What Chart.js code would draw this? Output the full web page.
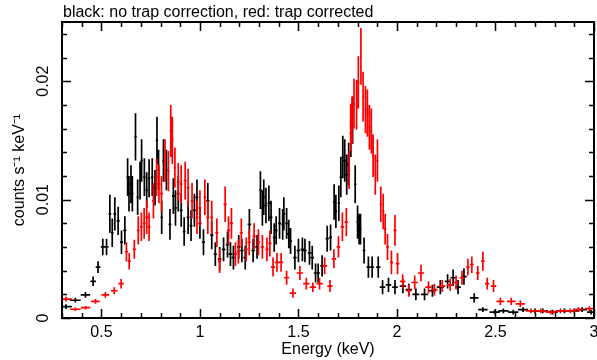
<!DOCTYPE html>
<html>
<head>
<meta charset="utf-8">
<script src="https://cdn.jsdelivr.net/npm/chart.js@4/dist/chart.umd.min.js"></script>
<style>
  html, body { margin: 0; padding: 0; background: #fff; }
  canvas { display: block; }
</style>
</head>
<body>
<canvas id="chart" width="597" height="360"></canvas>
<script>
// spectra: energy (keV), rate (counts/s/keV), 1-sigma error, bin half-width
const blackEnergy = [0.32, 0.368, 0.419, 0.458, 0.483, 0.507, 0.526, 0.543, 0.555, 0.568,
  0.585, 0.602, 0.619, 0.633, 0.640, 0.650, 0.657, 0.673, 0.684, 0.696,
  0.704, 0.718, 0.730, 0.742, 0.758, 0.772, 0.782, 0.790, 0.806, 0.815,
  0.830, 0.848, 0.865, 0.876, 0.890, 0.905, 0.920, 0.940, 0.955, 0.972,
  0.985, 1.000, 1.018, 1.040, 1.060, 1.078, 1.100, 1.120, 1.140, 1.155,
  1.170, 1.197, 1.213, 1.230, 1.251, 1.270, 1.290, 1.307, 1.317, 1.324,
  1.335, 1.350, 1.361, 1.377, 1.387, 1.404, 1.420, 1.426, 1.440, 1.451,
  1.460, 1.482, 1.500, 1.520, 1.533, 1.556, 1.570, 1.587, 1.600, 1.620,
  1.646, 1.663, 1.681, 1.690, 1.705, 1.715, 1.725, 1.735, 1.745, 1.755,
  1.766, 1.775, 1.788, 1.800, 1.808, 1.815, 1.833, 1.855, 1.874, 1.905,
  1.927, 1.957, 1.990, 2.030, 2.060, 2.096, 2.140, 2.180, 2.220, 2.257,
  2.285, 2.310, 2.340, 2.392, 2.436, 2.496, 2.540, 2.590, 2.640, 2.700,
  2.740, 2.790, 2.850, 2.900, 2.940, 2.985];
const blackRate = [0.00096, 0.0015, 0.00195, 0.0031, 0.0043, 0.0060, 0.0060, 0.0088, 0.0072, 0.0088,
  0.0082, 0.0064, 0.0074, 0.0119, 0.0105, 0.0113, 0.0105, 0.0153, 0.0102, 0.0116,
  0.0133, 0.0119, 0.0108, 0.0118, 0.0119, 0.0110, 0.0150, 0.0125, 0.0085, 0.0133,
  0.0125, 0.0079, 0.0103, 0.0093, 0.0105, 0.0091, 0.0073, 0.0085, 0.0078, 0.0091,
  0.0102, 0.0080, 0.0064, 0.0099, 0.0070, 0.0054, 0.0050, 0.0058, 0.0062, 0.0054,
  0.0051, 0.0060, 0.0057, 0.0051, 0.0079, 0.0057, 0.0060, 0.0108, 0.0093, 0.0102,
  0.0095, 0.0097, 0.0085, 0.0068, 0.0074, 0.0080, 0.0079, 0.0088, 0.0080, 0.0071,
  0.0065, 0.0051, 0.0057, 0.0058, 0.0057, 0.0055, 0.0051, 0.0038, 0.0038, 0.0044,
  0.0067, 0.0068, 0.0098, 0.0090, 0.0097, 0.0119, 0.0136, 0.0133, 0.0121, 0.0130,
  0.0156, 0.0167, 0.0113, 0.0081, 0.0075, 0.0075, 0.0057, 0.0043, 0.0043, 0.0043,
  0.0026, 0.0028, 0.0026, 0.0027, 0.0024, 0.0020, 0.0020, 0.0023, 0.0026, 0.0031,
  0.0034, 0.0026, 0.0035, 0.0017, 0.0007, 0.0005, 0.0006, 0.0005, 0.0007, 0.0006,
  0.0006, 0.0005, 0.0006, 0.0006, 0.0007, 0.0005];
const blackErr = [0.0002, 0.0002, 0.00025, 0.0004, 0.0005, 0.0007, 0.0007, 0.0016, 0.0012, 0.0014,
  0.0012, 0.0010, 0.0012, 0.0016, 0.0015, 0.0016, 0.0015, 0.0020, 0.0015, 0.0016,
  0.0018, 0.0016, 0.0015, 0.0016, 0.0016, 0.0015, 0.0020, 0.0017, 0.0014, 0.0018,
  0.0017, 0.0013, 0.0015, 0.0015, 0.0015, 0.0014, 0.0012, 0.0014, 0.0013, 0.0014,
  0.0015, 0.0013, 0.0011, 0.0015, 0.0012, 0.0010, 0.0010, 0.0010, 0.0011, 0.0010,
  0.0010, 0.0010, 0.0010, 0.0010, 0.0013, 0.0010, 0.0010, 0.0016, 0.0015, 0.0015,
  0.0015, 0.0015, 0.0014, 0.0012, 0.0012, 0.0013, 0.0013, 0.0014, 0.0013, 0.0012,
  0.0011, 0.0010, 0.0010, 0.0010, 0.0010, 0.0010, 0.0010, 0.0008, 0.0008, 0.0009,
  0.0011, 0.0011, 0.0015, 0.0014, 0.0015, 0.0017, 0.0018, 0.0018, 0.0017, 0.0018,
  0.0020, 0.0020, 0.0016, 0.0014, 0.0013, 0.0013, 0.0011, 0.0009, 0.0009, 0.0009,
  0.0006, 0.0006, 0.0006, 0.0006, 0.0005, 0.0005, 0.0005, 0.0005, 0.0006, 0.0006,
  0.0007, 0.0006, 0.0007, 0.0004, 0.0002, 0.0002, 0.0002, 0.0002, 0.0002, 0.0002,
  0.0002, 0.0002, 0.0002, 0.0002, 0.0002, 0.0002];
const blackHalfWidth = [0.030, 0.027, 0.024, 0.014, 0.012, 0.010, 0.010, 0.007, 0.007, 0.007,
  0.008, 0.008, 0.008, 0.006, 0.006, 0.006, 0.006, 0.006, 0.006, 0.006,
  0.006, 0.006, 0.006, 0.006, 0.006, 0.006, 0.006, 0.006, 0.006, 0.006,
  0.007, 0.007, 0.007, 0.007, 0.007, 0.007, 0.007, 0.007, 0.007, 0.007,
  0.007, 0.008, 0.008, 0.008, 0.008, 0.008, 0.009, 0.009, 0.009, 0.009,
  0.009, 0.009, 0.009, 0.009, 0.009, 0.009, 0.009, 0.006, 0.006, 0.006,
  0.007, 0.007, 0.007, 0.007, 0.007, 0.007, 0.007, 0.007, 0.007, 0.007,
  0.007, 0.009, 0.009, 0.009, 0.009, 0.009, 0.009, 0.009, 0.009, 0.009,
  0.008, 0.008, 0.006, 0.006, 0.006, 0.006, 0.006, 0.006, 0.006, 0.006,
  0.006, 0.006, 0.006, 0.006, 0.006, 0.006, 0.007, 0.009, 0.009, 0.011,
  0.014, 0.014, 0.014, 0.016, 0.016, 0.018, 0.018, 0.018, 0.018, 0.014,
  0.014, 0.014, 0.014, 0.022, 0.024, 0.026, 0.026, 0.026, 0.026, 0.026,
  0.026, 0.026, 0.026, 0.026, 0.024, 0.020];

const redEnergy = [0.320, 0.368, 0.420, 0.470, 0.520, 0.565, 0.600, 0.627, 0.641, 0.667,
  0.687, 0.703, 0.717, 0.730, 0.742, 0.764, 0.780, 0.792, 0.805, 0.823,
  0.840, 0.852, 0.860, 0.873, 0.890, 0.905, 0.925, 0.940, 0.960, 0.985,
  1.000, 1.025, 1.040, 1.060, 1.086, 1.100, 1.128, 1.145, 1.160, 1.180,
  1.195, 1.210, 1.235, 1.250, 1.275, 1.297, 1.317, 1.340, 1.355, 1.371,
  1.391, 1.412, 1.440, 1.472, 1.507, 1.540, 1.573, 1.607, 1.633, 1.660,
  1.680, 1.703, 1.723, 1.743, 1.757, 1.765, 1.772, 1.782, 1.795, 1.804,
  1.817, 1.828, 1.840, 1.850, 1.860, 1.870, 1.879, 1.890, 1.901, 1.918,
  1.930, 1.940, 1.952, 1.972, 1.990, 2.003, 2.029, 2.060, 2.090, 2.122,
  2.160, 2.190, 2.230, 2.270, 2.300, 2.330, 2.360, 2.380, 2.410, 2.436,
  2.458, 2.490, 2.525, 2.580, 2.626, 2.680, 2.730, 2.780, 2.830, 2.880,
  2.920, 2.976];
const redRate = [0.0016, 0.00074, 0.00087, 0.0014, 0.00195, 0.0023, 0.0029, 0.0056, 0.0048, 0.0058,
  0.0074, 0.0077, 0.0080, 0.0085, 0.0077, 0.0099, 0.0119, 0.0113, 0.0105, 0.0133,
  0.0124, 0.0158, 0.0150, 0.0127, 0.0115, 0.0113, 0.0116, 0.0110, 0.0099, 0.0085,
  0.0093, 0.0102, 0.0085, 0.0085, 0.0072, 0.0048, 0.0096, 0.0074, 0.0080, 0.0054,
  0.0056, 0.0072, 0.0058, 0.0064, 0.0069, 0.0064, 0.0060, 0.0058, 0.0063, 0.0043,
  0.0047, 0.0047, 0.0034, 0.0021, 0.0038, 0.0029, 0.0026, 0.0029, 0.0044, 0.0027,
  0.0050, 0.0060, 0.0077, 0.0081, 0.0125, 0.0161, 0.0167, 0.0181, 0.0180, 0.0199,
  0.0221, 0.0187, 0.0176, 0.0173, 0.0161, 0.0158, 0.0137, 0.0121, 0.0133, 0.0096,
  0.0090, 0.0075, 0.0060, 0.0047, 0.0074, 0.0046, 0.0031, 0.0023, 0.0030, 0.0038,
  0.0026, 0.0024, 0.0027, 0.0028, 0.0030, 0.0034, 0.0043, 0.0045, 0.0038, 0.0048,
  0.0029, 0.0027, 0.0014, 0.0014, 0.0012, 0.0006, 0.0006, 0.0005, 0.0006, 0.0006,
  0.0007, 0.0008];
const redErr = [0.0002, 0.00015, 0.00015, 0.0002, 0.00025, 0.0003, 0.0004, 0.0008, 0.0007, 0.0008,
  0.0012, 0.0012, 0.0013, 0.0014, 0.0012, 0.0015, 0.0016, 0.0016, 0.0015, 0.0018,
  0.0017, 0.0022, 0.0020, 0.0017, 0.0016, 0.0016, 0.0016, 0.0016, 0.0015, 0.0014,
  0.0015, 0.0015, 0.0014, 0.0014, 0.0012, 0.0010, 0.0015, 0.0012, 0.0013, 0.0010,
  0.0010, 0.0012, 0.0010, 0.0011, 0.0011, 0.0011, 0.0010, 0.0010, 0.0011, 0.0008,
  0.0008, 0.0008, 0.0006, 0.0004, 0.0006, 0.0005, 0.0004, 0.0005, 0.0007, 0.0005,
  0.0008, 0.0009, 0.0012, 0.0012, 0.0016, 0.0020, 0.0020, 0.0021, 0.0021, 0.0022,
  0.0024, 0.0021, 0.0020, 0.0020, 0.0019, 0.0019, 0.0018, 0.0017, 0.0018, 0.0015,
  0.0015, 0.0013, 0.0011, 0.0010, 0.0013, 0.0009, 0.0006, 0.0005, 0.0006, 0.0007,
  0.0005, 0.0005, 0.0005, 0.0005, 0.0006, 0.0006, 0.0007, 0.0007, 0.0006, 0.0008,
  0.0005, 0.0005, 0.0003, 0.0003, 0.0003, 0.0002, 0.0002, 0.0002, 0.0002, 0.0002,
  0.0002, 0.0002];
const redHalfWidth = [0.030, 0.027, 0.024, 0.022, 0.020, 0.017, 0.014, 0.008, 0.008, 0.008,
  0.007, 0.007, 0.007, 0.007, 0.007, 0.007, 0.007, 0.007, 0.007, 0.006,
  0.006, 0.006, 0.006, 0.006, 0.007, 0.007, 0.007, 0.007, 0.007, 0.007,
  0.007, 0.007, 0.007, 0.007, 0.008, 0.008, 0.008, 0.008, 0.008, 0.008,
  0.008, 0.008, 0.008, 0.008, 0.008, 0.008, 0.008, 0.008, 0.008, 0.011,
  0.011, 0.011, 0.013, 0.016, 0.016, 0.016, 0.016, 0.016, 0.013, 0.013,
  0.011, 0.009, 0.009, 0.009, 0.006, 0.005, 0.005, 0.005, 0.005, 0.005,
  0.005, 0.005, 0.005, 0.005, 0.005, 0.005, 0.005, 0.005, 0.006, 0.006,
  0.006, 0.006, 0.007, 0.008, 0.008, 0.009, 0.014, 0.014, 0.016, 0.016,
  0.016, 0.016, 0.016, 0.016, 0.014, 0.011, 0.009, 0.009, 0.009, 0.009,
  0.011, 0.014, 0.020, 0.022, 0.024, 0.026, 0.026, 0.026, 0.026, 0.026,
  0.024, 0.022];

const xTicks = [0.5, 1, 1.5, 2, 2.5, 3];
const yTicks = [0, 0.01, 0.02];
const titleText = 'black: no trap correction, red: trap corrected';

const FONT = '"Liberation Sans", Arial, Helvetica, sans-serif';

function toPoints(xs, ys) {
  return xs.map((x, i) => ({ x: x, y: ys[i] }));
}

const errors = [
  { dx: blackHalfWidth, dy: blackErr },
  { dx: redHalfWidth, dy: redErr },
];

// draws the crosses (bin width + 1 sigma) for every dataset, clipped to the plot box
const errorBars = {
  id: 'errorBars',
  afterDatasetsDraw(chart) {
    const { ctx, chartArea, scales } = chart;
    const xs = scales.x, ys = scales.y;
    ctx.save();
    ctx.beginPath();
    ctx.rect(chartArea.left, chartArea.top, chartArea.right - chartArea.left, chartArea.bottom - chartArea.top);
    ctx.clip();
    chart.data.datasets.forEach((ds, di) => {
      const err = errors[di];
      ctx.strokeStyle = ds.borderColor;
      ctx.lineWidth = 1.7;
      ctx.beginPath();
      ds.data.forEach((p, i) => {
        const x0 = xs.getPixelForValue(p.x - err.dx[i]);
        const x1 = xs.getPixelForValue(p.x + err.dx[i]);
        const xc = xs.getPixelForValue(p.x);
        const yc = ys.getPixelForValue(p.y);
        const y0 = ys.getPixelForValue(p.y - err.dy[i]);
        const y1 = ys.getPixelForValue(p.y + err.dy[i]);
        ctx.moveTo(x0, yc); ctx.lineTo(x1, yc);
        ctx.moveTo(xc, y0); ctx.lineTo(xc, y1);
      });
      ctx.stroke();
    });
    ctx.restore();
  }
};

// frame with inward ticks on all four sides, rotated y labels and the title
const frame = {
  id: 'frame',
  afterDraw(chart) {
    const { ctx, chartArea, scales } = chart;
    const { left, right, top, bottom } = chartArea;
    const xs = scales.x, ys = scales.y;
    ctx.save();
    ctx.strokeStyle = '#000';
    ctx.lineWidth = 1.5;
    ctx.beginPath();
    for (let v = 0.3; v <= 3.0001; v += 0.1) {
      const px = Math.round(xs.getPixelForValue(v)) + 0.5;
      const major = Math.abs(v * 2 - Math.round(v * 2)) < 1e-6;
      const len = major ? 9 : 5;
      ctx.moveTo(px, bottom); ctx.lineTo(px, bottom - len);
      ctx.moveTo(px, top); ctx.lineTo(px, top + len);
    }
    for (let v = 0; v <= 0.0250001; v += 0.002) {
      const py = Math.round(ys.getPixelForValue(v)) + 0.5;
      const major = Math.abs(v * 100 - Math.round(v * 100)) < 1e-6;
      const len = major ? 9 : 5;
      ctx.moveTo(left, py); ctx.lineTo(left + len, py);
      ctx.moveTo(right, py); ctx.lineTo(right - len, py);
    }
    ctx.stroke();
    ctx.lineWidth = 2;
    ctx.strokeRect(left, top, right - left, bottom - top);

    ctx.fillStyle = '#000';
    ctx.font = '16px ' + FONT;
    ctx.textAlign = 'center';
    ctx.textBaseline = 'middle';
    ys.ticks.forEach((t) => {
      const py = ys.getPixelForValue(t.value);
      ctx.save();
      ctx.translate(left - 18, py);
      ctx.rotate(-Math.PI / 2);
      ctx.fillText(t.label, 0, 0);
      ctx.restore();
    });

    ctx.textAlign = 'left';
    ctx.textBaseline = 'alphabetic';
    ctx.fillText(titleText, left + 1, top - 5);
    ctx.restore();
  }
};

new Chart(document.getElementById('chart').getContext('2d'), {
  type: 'scatter',
  data: {
    datasets: [
      { label: 'no trap correction', data: toPoints(blackEnergy, blackRate), borderColor: '#000000', backgroundColor: '#000000', pointRadius: 0 },
      { label: 'trap corrected', data: toPoints(redEnergy, redRate), borderColor: '#ff0000', backgroundColor: '#ff0000', pointRadius: 0 },
    ]
  },
  options: {
    responsive: false,
    animation: false,
    layout: { padding: { left: 0, right: 3, top: 22, bottom: 0 } },
    plugins: {
      legend: { display: false },
      tooltip: { enabled: false },
      title: { display: false },
    },
    scales: {
      x: {
        type: 'linear',
        min: 0.3,
        max: 3,
        grid: { display: false, drawTicks: false },
        border: { display: false },
        afterBuildTicks: (scale) => { scale.ticks = xTicks.map((v) => ({ value: v })); },
        ticks: {
          color: '#000',
          padding: 5,
          maxRotation: 0,
          autoSkip: false,
          font: { family: FONT, size: 16 },
          callback: (v) => String(v),
        },
        title: {
          display: true,
          text: 'Energy (keV)',
          color: '#000',
          font: { family: FONT, size: 16 },
          padding: { top: 0, bottom: 1 },
        },
        afterFit: (scale) => {
          scale.height = 42;
          scale.paddingLeft = 0;
          scale.paddingRight = 0;
        },
      },
      y: {
        type: 'linear',
        min: 0,
        max: 0.025,
        grid: { display: false, drawTicks: false },
        border: { display: false },
        afterBuildTicks: (scale) => { scale.ticks = yTicks.map((v) => ({ value: v })); },
        ticks: {
          display: false,
          callback: (v) => String(v),
        },
        title: {
          display: true,
          text: 'counts s\u207B\u00B9 keV\u207B\u00B9',
          color: '#000',
          font: { family: FONT, size: 16 },
          padding: { top: 10, bottom: 0 },
        },
        afterFit: (scale) => {
          scale.width = 62;
          scale.paddingTop = 0;
          scale.paddingBottom = 0;
        },
      },
    },
  },
  plugins: [errorBars, frame],
});
</script>
</body>
</html>
